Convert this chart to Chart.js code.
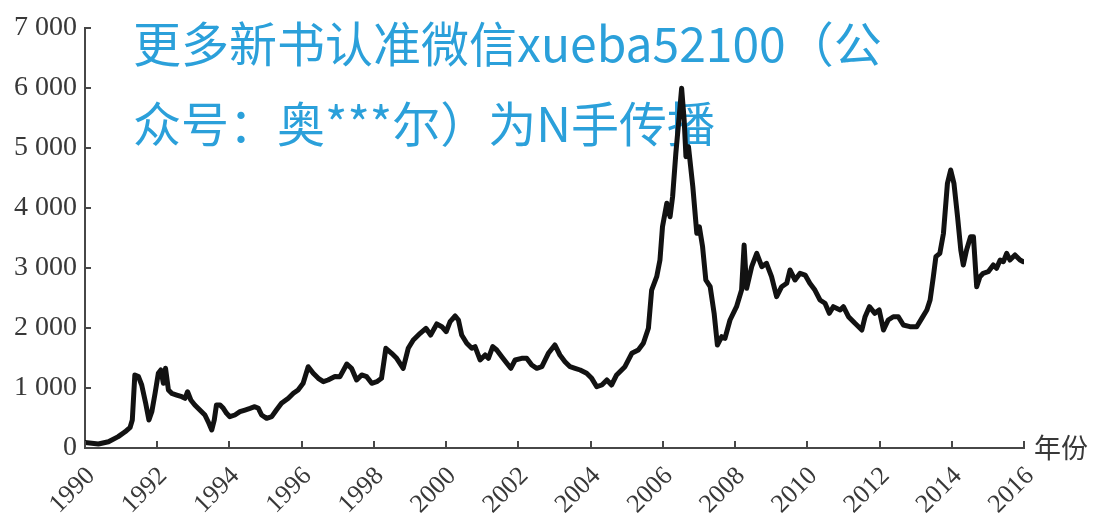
<!DOCTYPE html>
<html>
<head>
<meta charset="utf-8">
<script src="https://cdn.jsdelivr.net/npm/chart.js@4.4.1/dist/chart.umd.min.js"></script>
<style>
  html, body { margin: 0; padding: 0; background: #ffffff; }
  #wrap { width: 1098px; height: 514px; position: relative; }
</style>
</head>
<body>
<div id="wrap"><canvas id="c" width="1098" height="514"></canvas></div>
<script>
// ---- data ----
const years = [
  1990.00,1990.37,1990.65,1990.92,1991.11,1991.25,1991.31,1991.38,1991.48,1991.57,
  1991.68,1991.77,1991.85,1991.94,1992.03,1992.10,1992.17,1992.23,1992.31,1992.40,
  1992.54,1992.68,1992.77,1992.84,1992.93,1993.04,1993.18,1993.32,1993.43,1993.51,
  1993.58,1993.64,1993.74,1993.83,1993.92,1994.01,1994.15,1994.29,1994.43,1994.57,
  1994.70,1994.80,1994.89,1995.03,1995.17,1995.30,1995.44,1995.63,1995.77,1995.90,
  1996.04,1996.18,1996.32,1996.46,1996.60,1996.73,1996.92,
  1997.06,1997.25,1997.38,1997.52,1997.66,1997.80,1997.94,1998.08,1998.21,1998.33,
  1998.49,1998.63,1998.81,1998.95,1999.09,1999.28,1999.44,1999.57,1999.74,1999.88,
  2000.00,2000.11,2000.25,2000.34,2000.43,2000.57,2000.71,2000.80,2000.94,2001.08,
  2001.17,2001.29,2001.40,2001.54,2001.68,2001.79,2001.91,2002.09,2002.23,2002.37,
  2002.51,2002.65,2002.83,2003.01,2003.15,2003.29,2003.43,2003.57,2003.71,2003.89,
  2004.03,2004.17,2004.31,2004.45,2004.58,2004.72,
  2004.95,2005.14,2005.32,2005.46,2005.60,2005.69,2005.83,2005.92,2005.99,2006.11,
  2006.20,2006.27,2006.36,2006.46,2006.52,2006.59,2006.64,2006.71,2006.83,2006.94,
  2007.01,2007.10,2007.19,2007.31,2007.42,2007.51,2007.63,2007.72,2007.86,2008.04,
  2008.18,2008.25,2008.32,2008.46,2008.60,2008.74,2008.87,2009.01,2009.15,2009.29,
  2009.43,2009.52,2009.66,2009.80,2009.94,2010.07,2010.21,2010.35,2010.49,2010.61,
  2010.72,2010.91,
  2011.00,2011.14,2011.32,2011.51,2011.60,2011.72,2011.87,2011.99,2012.11,2012.24,
  2012.38,2012.52,2012.66,2012.84,2013.03,2013.17,2013.31,2013.40,2013.49,2013.56,
  2013.67,2013.77,2013.88,2013.97,2014.06,2014.16,2014.25,2014.32,2014.41,2014.52,
  2014.60,2014.69,2014.78,2014.87,2015.01,2015.15,2015.24,2015.34,2015.43,2015.52,
  2015.61,2015.75,2015.89,2015.98
];
const indexValues = [
  90,67,105,190,270,345,467,1217,1190,1050,
  745,467,605,911,1245,1300,1078,1328,967,911,
  883,855,828,938,800,717,633,550,412,300,
  467,717,717,661,578,522,550,605,633,661,
  689,661,550,495,522,633,745,828,911,967,
  1078,1355,1245,1161,1105,1133,1190,
  1189,1400,1328,1133,1217,1189,1078,1105,1161,1662,
  1578,1495,1328,1662,1800,1912,1995,1883,2067,2022,
  1938,2105,2200,2133,1883,1745,1662,1689,1467,1550,
  1495,1689,1633,1522,1412,1328,1467,1495,1495,1383,
  1328,1355,1578,1717,1550,1438,1355,1328,1300,1245,
  1161,1022,1050,1133,1050,1217,
  1355,1578,1633,1745,1995,2633,2855,3133,3688,4078,
  3855,4188,4912,5578,5995,5467,4855,5022,4355,3578,
  3688,3355,2800,2688,2245,1717,1855,1828,2133,2355,
  2633,3383,2661,3022,3245,3022,3078,2855,2522,2688,
  2745,2967,2800,2912,2883,2745,2633,2467,2412,2245,
  2355,2300,
  2355,2188,2078,1967,2188,2355,2245,2300,1967,2133,
  2188,2188,2050,2022,2022,2161,2300,2467,2855,3188,
  3245,3578,4412,4633,4412,3855,3300,3050,3300,3522,
  3522,2688,2855,2912,2938,3050,2995,3133,3105,3245,
  3133,3217,3133,3105
];
const xTickYears = [1990,1992,1994,1996,1998,2000,2002,2004,2006,2008,2010,2012,2014,2016];
const yTickValues = [0,1000,2000,3000,4000,5000,6000,7000];
const xAxisTitle = '年份';
const watermarkLines = ['更多新书认准微信xueba52100（公', '众号：奥***尔）为N手传播'];

const points = years.map((x, i) => ({ x: x, y: indexValues[i] }));

function fmtThousands(v) {
  if (v === 0) return '0';
  return String(Math.floor(v / 1000)) + ' ' + String(v % 1000).padStart(3, '0');
}

const AXIS_COLOR = '#474747';
const TEXT_COLOR = '#383838';

const decorPlugin = {
  id: 'decor',
  beforeDatasetsDraw(chart) {
    const ctx = chart.ctx;
    ctx.save();
    ctx.fillStyle = '#2ba0da';
    ctx.font = '48px "Noto Sans CJK SC"';
    ctx.textAlign = 'left';
    ctx.textBaseline = 'middle';
    ctx.fillText(watermarkLines[0], 133, 44);
    ctx.fillText(watermarkLines[1], 133, 124);
    ctx.restore();
  },
  afterDraw(chart) {
    const ctx = chart.ctx;
    const xs = chart.scales.x, ys = chart.scales.y;
    ctx.save();
    ctx.strokeStyle = AXIS_COLOR;
    ctx.lineWidth = 2;
    ctx.beginPath();
    ys.ticks.forEach(t => {
      const py = Math.round(ys.getPixelForValue(t.value));
      ctx.moveTo(ys.right, py);
      ctx.lineTo(ys.right + 6, py);
    });
    xs.ticks.forEach(t => {
      const px = Math.round(xs.getPixelForValue(t.value));
      ctx.moveTo(px, xs.top);
      ctx.lineTo(px, xs.top - 7);
    });
    ctx.stroke();
    ctx.fillStyle = TEXT_COLOR;
    ctx.font = '27px "Noto Sans CJK SC"';
    ctx.textAlign = 'left';
    ctx.textBaseline = 'middle';
    ctx.fillText(xAxisTitle, xs.right + 10, xs.top);
    ctx.restore();
  }
};

new Chart(document.getElementById('c'), {
  type: 'line',
  data: {
    datasets: [{
      data: points,
      borderColor: '#121212',
      borderWidth: 5,
      pointRadius: 0,
      tension: 0,
      borderJoinStyle: 'round',
      borderCapStyle: 'round',
      fill: false
    }]
  },
  options: {
    responsive: false,
    animation: false,
    events: [],
    layout: { padding: { left: 0, top: 28, right: 74, bottom: 0 } },
    plugins: { legend: { display: false }, tooltip: { enabled: false }, title: { display: false } },
    scales: {
      x: {
        type: 'linear',
        min: 1990,
        max: 2016,
        afterBuildTicks: (scale) => { scale.ticks = xTickYears.map(v => ({ value: v })); },
        afterFit: (scale) => { scale.height = 66; },
        grid: { display: false, drawTicks: false, tickLength: 0 },
        border: { display: true, color: AXIS_COLOR, width: 2 },
        ticks: {
          autoSkip: false,
          minRotation: 45,
          maxRotation: 45,
          padding: 13,
          labelOffset: 6,
          color: TEXT_COLOR,
          font: { family: '"Liberation Serif", "DejaVu Serif", serif', size: 26 },
          callback: (v) => String(v)
        }
      },
      y: {
        min: 0,
        max: 7000,
        afterBuildTicks: (scale) => { scale.ticks = yTickValues.map(v => ({ value: v })); },
        afterFit: (scale) => { scale.width = 85; },
        grid: { display: false, drawTicks: false, tickLength: 0 },
        border: { display: true, color: AXIS_COLOR, width: 2 },
        ticks: {
          padding: 8,
          color: TEXT_COLOR,
          font: { family: '"Liberation Serif", "DejaVu Serif", serif', size: 28 },
          callback: (v) => fmtThousands(v)
        }
      }
    }
  },
  plugins: [decorPlugin]
});
</script>
</body>
</html>
